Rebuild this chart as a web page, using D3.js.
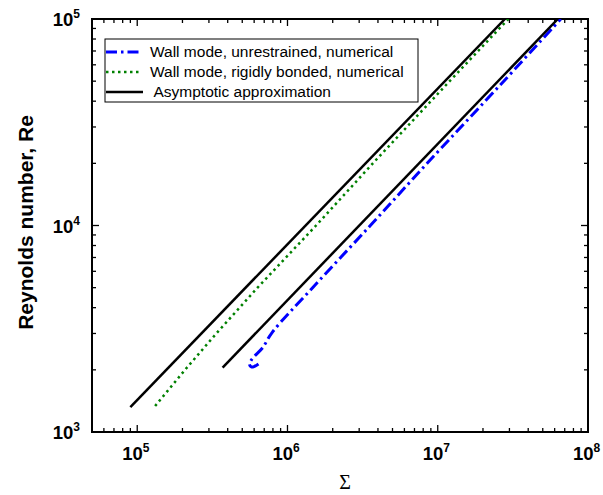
<!DOCTYPE html>
<html>
<head>
<meta charset="utf-8">
<script src="https://cdn.jsdelivr.net/npm/d3@7"></script>
<style>
  body { margin: 0; background: #fff; overflow: hidden; }
  text { font-family: Arial, "Liberation Sans", sans-serif; }
</style>
</head>
<body>
<script>
// ---- data (Sigma, Re) ----
const asymLeft  = [[9.0e4, 1320], [2.8e7, 1e5]];
const asymRight = [[3.7e5, 2050], [6.3e7, 1e5]];

const rigidSigma = [1.315e5, 2.08e5, 3.36e5, 6.32e5, 1.55e6, 3.7e6, 1.2e7, 2.95e7];
const rigidRe    = [1336,    2000,   3000,   5000,   1e4,    2e4,   5e4,   1e5];

const unrSigma = [6.41e5, 6.0e5, 5.75e5, 5.58e5, 5.7e5, 6.0e5, 6.81e5, 7.94e5, 1.47e6, 3.56e6, 8.5e6, 2.75e7, 6.59e7];
const unrRe    = [2134,   2075,  2066,   2130,   2210,  2320,  2552,   3047,   5000,   1e4,    2e4,   5e4,    1e5];

const xMajor = [1e5, 1e6, 1e7, 1e8];
const yMajor = [1e3, 1e4, 1e5];
const legendLabels = [
  "Wall mode, unrestrained, numerical",
  "Wall mode, rigidly bonded, numerical",
  " Asymptotic approximation"
];

const width = 603, height = 495;
const margin = {top: 19, right: 15, bottom: 63, left: 92};
const plotW = width - margin.left - margin.right;
const plotH = height - margin.top - margin.bottom;

const svg = d3.select("body").append("svg")
    .attr("width", width)
    .attr("height", height);

const x = d3.scaleLog().domain([5e4, 1e8]).range([margin.left, margin.left + plotW]);
const y = d3.scaleLog().domain([1e3, 1e5]).range([margin.top + plotH, margin.top]);

// minor ticks
function minors(lo, hi) {
    const out = [];
    for (let p = Math.floor(Math.log10(lo)); p < Math.log10(hi); p++) {
        for (let k = 2; k <= 9; k++) {
            const v = k * Math.pow(10, p);
            if (v > lo && v < hi) out.push(v);
        }
    }
    return out;
}
const xMinor = minors(5e4, 1e8);
const yMinor = minors(1e3, 1e5);

const x0 = margin.left, x1 = margin.left + plotW;
const y0 = margin.top + plotH, y1 = margin.top;
const ticks = svg.append("g").attr("stroke", "#000").attr("stroke-width", 1.3);
const majL = 7, minL = 4;
xMajor.concat(xMinor).forEach(v => {
    const L = xMajor.includes(v) ? majL : minL;
    ticks.append("line").attr("x1", x(v)).attr("x2", x(v)).attr("y1", y0).attr("y2", y0 - L);
    ticks.append("line").attr("x1", x(v)).attr("x2", x(v)).attr("y1", y1).attr("y2", y1 + L);
});
yMajor.concat(yMinor).forEach(v => {
    const L = yMajor.includes(v) ? majL : minL;
    ticks.append("line").attr("y1", y(v)).attr("y2", y(v)).attr("x1", x0).attr("x2", x0 + L);
    ticks.append("line").attr("y1", y(v)).attr("y2", y(v)).attr("x1", x1).attr("x2", x1 - L);
});

// frame
svg.append("rect")
    .attr("x", x0).attr("y", y1)
    .attr("width", plotW).attr("height", plotH)
    .attr("fill", "none").attr("stroke", "#000").attr("stroke-width", 2);

// tick labels
xMajor.forEach(v => {
    const t = svg.append("text")
        .attr("x", x(v) - 15).attr("y", y0 + 28)
        .attr("font-weight", "bold").attr("font-size", 18.5);
    t.append("tspan").text("10");
    t.append("tspan").attr("dy", -8).attr("font-size", 12).text(Math.round(Math.log10(v)));
});
yMajor.forEach(v => {
    const t = svg.append("text")
        .attr("x", x0 - 12).attr("y", y(v) + 7)
        .attr("text-anchor", "end")
        .attr("font-weight", "bold").attr("font-size", 18.5);
    t.append("tspan").text("10");
    t.append("tspan").attr("dy", -8).attr("font-size", 12).text(Math.round(Math.log10(v)));
});

// axis titles
svg.append("text")
    .attr("transform", `translate(33,${margin.top + plotH / 2 - 3}) rotate(-90)`)
    .attr("text-anchor", "middle")
    .attr("font-weight", "bold").attr("font-size", 21)
    .text("Reynolds number, Re");
svg.append("text")
    .attr("x", 345).attr("y", 489)
    .attr("text-anchor", "middle")
    .style("font-family", "'Liberation Serif', 'DejaVu Serif', serif")
    .attr("font-size", 20)
    .text("Σ");

// curves
const line = d3.line().x(d => x(d[0])).y(d => y(d[1]));
const zip = (a, b) => a.map((v, i) => [v, b[i]]);

svg.append("clipPath").attr("id", "clip")
    .append("rect").attr("x", x0).attr("y", y1).attr("width", plotW).attr("height", plotH);
const g = svg.append("g").attr("clip-path", "url(#clip)").attr("fill", "none");

const styles = [
    {color: "#0000ff", width: 3, dash: "11,4,2.5,4"},
    {color: "#008000", width: 2.5, dash: "2.5,3.5"},
    {color: "#000000", width: 2.5, dash: null}
];

g.append("path").datum(zip(rigidSigma, rigidRe)).attr("d", line)
    .attr("stroke", styles[1].color).attr("stroke-width", styles[1].width)
    .attr("stroke-dasharray", styles[1].dash);
g.append("path").datum(zip(unrSigma, unrRe))
    .attr("d", d3.line().curve(d3.curveCatmullRom).x(d => x(d[0])).y(d => y(d[1])))
    .attr("stroke", styles[0].color).attr("stroke-width", styles[0].width)
    .attr("stroke-dasharray", styles[0].dash);
[asymLeft, asymRight].forEach(d => {
    g.append("path").datum(d).attr("d", line)
        .attr("stroke", styles[2].color).attr("stroke-width", styles[2].width);
});

// legend
const lg = svg.append("g");
lg.append("rect").attr("x", 105).attr("y", 39).attr("width", 313).attr("height", 63)
    .attr("fill", "#fff").attr("stroke", "#000").attr("stroke-width", 1);
legendLabels.forEach((lab, i) => {
    const yy = 52 + i * 20;
    lg.append("line").attr("x1", 106).attr("x2", i === 2 ? 143 : 141).attr("y1", yy).attr("y2", yy)
        .attr("stroke", styles[i].color).attr("stroke-width", styles[i].width)
        .attr("stroke-dasharray", styles[i].dash);
    lg.append("text").attr("x", 150).attr("y", yy + 5)
        .attr("font-size", 15.5)
        .style("white-space", "pre")
        .text(lab);
});
</script>
</body>
</html>
